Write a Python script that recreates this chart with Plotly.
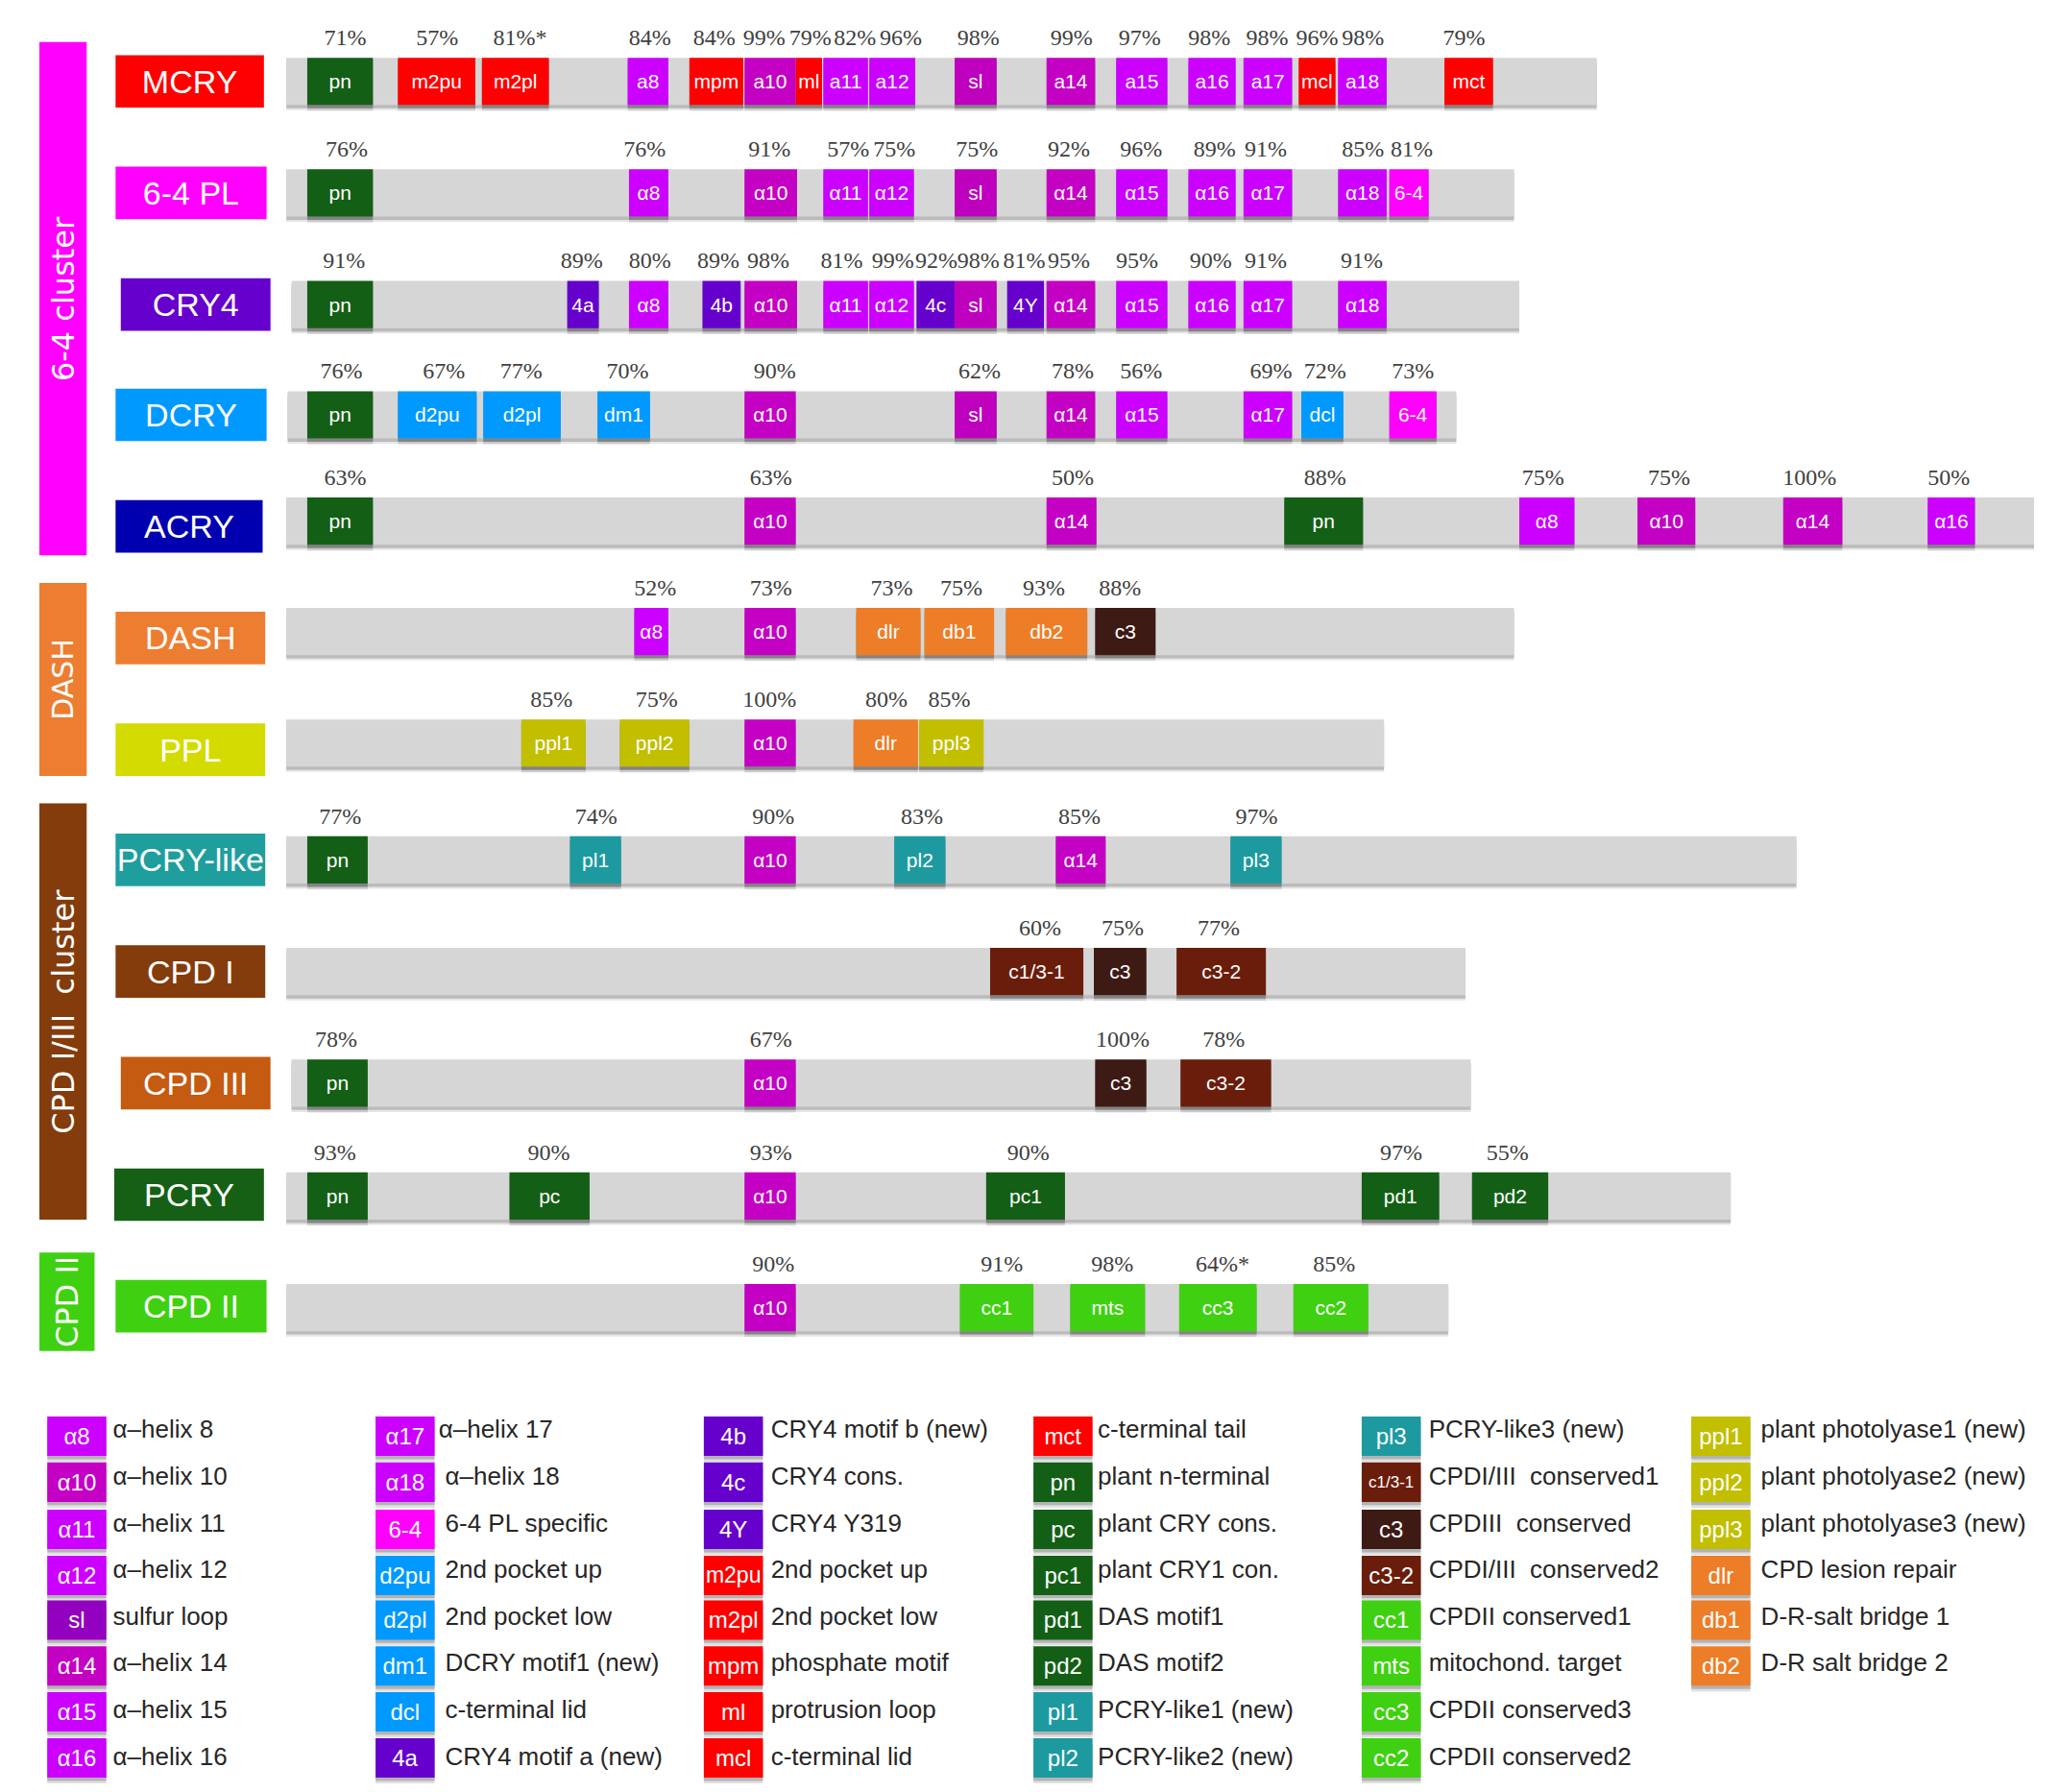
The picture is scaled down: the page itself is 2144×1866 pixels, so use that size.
import plotly.graph_objects as go

W, H = 2144, 1866
XMAX, YMAX = 1568, 1365

# Protein families
families = ["MCRY", "6-4 PL", "CRY4", "DCRY", "ACRY", "DASH", "PPL", "PCRY-like", "CPD I", "CPD III", "PCRY", "CPD II"]
family_y = [62, 147, 232, 316, 401, 486, 571, 655, 740, 825, 910, 995]
seq_y = [62, 147, 232, 316, 397, 481, 566, 655, 740, 825, 911, 996]
family_box_start = [88, 88, 92, 88, 88, 88, 88, 88, 88, 92, 87, 88]
family_box_end = [201, 203, 206, 203, 200, 202, 202, 202, 202, 206, 201, 203]
family_colors = ["#FF0000", "#FF00FF", "#6600CC", "#0099FF", "#0000B0", "#ED7D31", "#D4DB00", "#1F9E9E", "#843C0C", "#C55A11", "#156015", "#3FD111"]
seq_start = [218, 218, 222, 219, 218, 218, 218, 218, 218, 222, 218, 218]
seq_end = [1216, 1153, 1157, 1109, 1549, 1153, 1054, 1368, 1116, 1120, 1318, 1103]

# Motifs per family: label, start, end; conservation labels and where they sit
mcry_m = ["pn", "m2pu", "m2pl", "a8", "mpm", "a10", "ml", "a11", "a12", "sl", "a14", "a15", "a16", "a17", "mcl", "a18", "mct"]
mcry_s = [234, 303, 367, 478, 525, 567, 606, 627, 662, 727, 797, 850, 905, 947, 989, 1019, 1100]
mcry_e = [284, 362, 418, 509, 566, 606, 626, 661, 697, 759, 834, 889, 941, 984, 1017, 1056, 1137]
mcry_p = ["71%", "57%", "81%*", "84%", "84%", "99%", "79%", "82%", "96%", "98%", "99%", "97%", "98%", "98%", "96%", "98%", "79%"]
mcry_px = [263, 333, 396, 495, 544, 582, 617, 651, 686, 745, 816, 868, 921, 965, 1003, 1038, 1115]

pl64_m = ["pn", "α8", "α10", "α11", "α12", "sl", "α14", "α15", "α16", "α17", "α18", "6-4"]
pl64_s = [234, 479, 567, 627, 662, 727, 797, 850, 905, 947, 1019, 1058]
pl64_e = [284, 509, 607, 661, 696, 759, 834, 889, 941, 984, 1056, 1088]
pl64_p = ["76%", "76%", "91%", "57%", "75%", "75%", "92%", "96%", "89%", "91%", "85%", "81%"]
pl64_px = [264, 491, 586, 646, 681, 744, 814, 869, 925, 964, 1038, 1075]

cry4_m = ["pn", "4a", "α8", "4b", "α10", "α11", "α12", "4c", "sl", "4Y", "α14", "α15", "α16", "α17", "α18"]
cry4_s = [234, 432, 479, 535, 567, 627, 662, 698, 727, 767, 797, 850, 905, 947, 1019]
cry4_e = [284, 456, 509, 564, 607, 661, 696, 727, 759, 795, 834, 889, 941, 984, 1056]
cry4_p = ["91%", "89%", "80%", "89%", "98%", "81%", "99%", "92%", "98%", "81%", "95%", "95%", "90%", "91%", "91%"]
cry4_px = [262, 443, 495, 547, 585, 641, 680, 713, 745, 780, 814, 866, 922, 964, 1037]

dcry_m = ["pn", "d2pu", "d2pl", "dm1", "α10", "sl", "α14", "α15", "α17", "dcl", "6-4"]
dcry_s = [234, 303, 368, 455, 567, 727, 797, 850, 947, 991, 1058]
dcry_e = [284, 363, 427, 495, 606, 759, 834, 889, 984, 1023, 1094]
dcry_p = ["76%", "67%", "77%", "70%", "90%", "62%", "78%", "56%", "69%", "72%", "73%"]
dcry_px = [260, 338, 397, 478, 590, 746, 817, 869, 968, 1009, 1076]

acry_m = ["pn", "α10", "α14", "pn", "α8", "α10", "α14", "α16"]
acry_s = [234, 567, 797, 978, 1157, 1247, 1358, 1468]
acry_e = [284, 606, 835, 1038, 1199, 1291, 1403, 1504]
acry_p = ["63%", "63%", "50%", "88%", "75%", "75%", "100%", "50%"]
acry_px = [263, 587, 817, 1009, 1175, 1271, 1378, 1484]

dash_m = ["α8", "α10", "dlr", "db1", "db2", "c3"]
dash_s = [483, 567, 652, 704, 766, 834]
dash_e = [509, 606, 701, 757, 828, 880]
dash_p = ["52%", "73%", "73%", "75%", "93%", "88%"]
dash_px = [499, 587, 679, 732, 795, 853]

ppl_m = ["ppl1", "ppl2", "α10", "dlr", "ppl3"]
ppl_s = [397, 472, 567, 650, 700]
ppl_e = [446, 525, 606, 699, 749]
ppl_p = ["85%", "75%", "100%", "80%", "85%"]
ppl_px = [420, 500, 586, 675, 723]

pcl_m = ["pn", "pl1", "α10", "pl2", "α14", "pl3"]
pcl_s = [234, 434, 567, 681, 804, 937]
pcl_e = [280, 473, 606, 720, 842, 976]
pcl_p = ["77%", "74%", "90%", "83%", "85%", "97%"]
pcl_px = [259, 454, 589, 702, 822, 957]

cpd1_m = ["c1/3-1", "c3", "c3-2"]
cpd1_s = [754, 833, 896]
cpd1_e = [825, 873, 964]
cpd1_p = ["60%", "75%", "77%"]
cpd1_px = [792, 855, 928]

cpd3_m = ["pn", "α10", "c3", "c3-2"]
cpd3_s = [234, 567, 834, 899]
cpd3_e = [280, 606, 873, 968]
cpd3_p = ["78%", "67%", "100%", "78%"]
cpd3_px = [256, 587, 855, 932]

pcry_m = ["pn", "pc", "α10", "pc1", "pd1", "pd2"]
pcry_s = [234, 388, 567, 751, 1037, 1121]
pcry_e = [280, 449, 606, 811, 1096, 1179]
pcry_p = ["93%", "90%", "93%", "90%", "97%", "55%"]
pcry_px = [255, 418, 587, 783, 1067, 1148]

cpd2_m = ["α10", "cc1", "mts", "cc3", "cc2"]
cpd2_s = [567, 731, 815, 898, 985]
cpd2_e = [606, 787, 872, 957, 1042]
cpd2_p = ["90%", "91%", "98%", "64%*", "85%"]
cpd2_px = [589, 763, 847, 931, 1016]

family_motifs = [
    (mcry_m, mcry_s, mcry_e, mcry_p, mcry_px), (pl64_m, pl64_s, pl64_e, pl64_p, pl64_px),
    (cry4_m, cry4_s, cry4_e, cry4_p, cry4_px), (dcry_m, dcry_s, dcry_e, dcry_p, dcry_px),
    (acry_m, acry_s, acry_e, acry_p, acry_px), (dash_m, dash_s, dash_e, dash_p, dash_px),
    (ppl_m, ppl_s, ppl_e, ppl_p, ppl_px), (pcl_m, pcl_s, pcl_e, pcl_p, pcl_px),
    (cpd1_m, cpd1_s, cpd1_e, cpd1_p, cpd1_px), (cpd3_m, cpd3_s, cpd3_e, cpd3_p, cpd3_px),
    (pcry_m, pcry_s, pcry_e, pcry_p, pcry_px), (cpd2_m, cpd2_s, cpd2_e, cpd2_p, cpd2_px),
]

# Clusters
clusters = ["6-4 cluster", "DASH", "CPD I/III  cluster", "CPD II"]
cluster_top = [32, 444, 612, 954]
cluster_bottom = [423, 591, 929, 1029]
cluster_left = [30, 30, 30, 30]
cluster_right = [66, 66, 66, 72]
cluster_colors = ["#FF00FF", "#ED7D31", "#843C0C", "#3FD111"]
cluster_font = [32, 30, 32, 32]

# Motif colours
C_H1, C_H2 = "#CC00FF", "#C400C4"
motif_colors = {
    "a8": C_H1, "a11": C_H1, "a12": C_H1, "a15": C_H1, "a16": C_H1, "a17": C_H1, "a18": C_H1,
    "α8": C_H1, "α11": C_H1, "α12": C_H1, "α15": C_H1, "α16": C_H1, "α17": C_H1, "α18": C_H1,
    "a10": C_H2, "a14": C_H2, "α10": C_H2, "α14": C_H2, "sl": "#BE00BE",
    "6-4": "#FF00FF",
    "d2pu": "#0099FF", "d2pl": "#0099FF", "dm1": "#0099FF", "dcl": "#0099FF",
    "4a": "#6600CC", "4b": "#6600CC", "4c": "#6600CC", "4Y": "#6600CC",
    "m2pu": "#FF0000", "m2pl": "#FF0000", "mpm": "#FF0000", "ml": "#FF0000", "mcl": "#FF0000", "mct": "#FF0000",
    "pn": "#135F16", "pc": "#135F16", "pc1": "#135F16", "pd1": "#135F16", "pd2": "#135F16",
    "pl1": "#1C9AA0", "pl2": "#1C9AA0", "pl3": "#1C9AA0",
    "c1/3-1": "#6B1D0C", "c3": "#3E1A14", "c3-2": "#6B1D0C",
    "cc1": "#3FD111", "mts": "#3FD111", "cc3": "#3FD111", "cc2": "#3FD111",
    "ppl1": "#C2BE00", "ppl2": "#C2BE00", "ppl3": "#C2BE00",
    "dlr": "#ED7D27", "db1": "#ED7D27", "db2": "#ED7D27",
}

# Legend, column by column
legend_col1 = ["α8", "α10", "α11", "α12", "sl", "α14", "α15", "α16"]
legend_txt1 = ["α–helix 8", "α–helix 10", "α–helix 11", "α–helix 12", "sulfur loop", "α–helix 14", "α–helix 15", "α–helix 16"]
legend_col2 = ["α17", "α18", "6-4", "d2pu", "d2pl", "dm1", "dcl", "4a"]
legend_txt2 = ["α–helix 17", "α–helix 18", "6-4 PL specific", "2nd pocket up", "2nd pocket low", "DCRY motif1 (new)", "c-terminal lid", "CRY4 motif a (new)"]
legend_col3 = ["4b", "4c", "4Y", "m2pu", "m2pl", "mpm", "ml", "mcl"]
legend_txt3 = ["CRY4 motif b (new)", "CRY4 cons.", "CRY4 Y319", "2nd pocket up", "2nd pocket low", "phosphate motif", "protrusion loop", "c-terminal lid"]
legend_col4 = ["mct", "pn", "pc", "pc1", "pd1", "pd2", "pl1", "pl2"]
legend_txt4 = ["c-terminal tail", "plant n-terminal", "plant CRY cons.", "plant CRY1 con.", "DAS motif1", "DAS motif2", "PCRY-like1 (new)", "PCRY-like2 (new)"]
legend_col5 = ["pl3", "c1/3-1", "c3", "c3-2", "cc1", "mts", "cc3", "cc2"]
legend_txt5 = ["PCRY-like3 (new)", "CPDI/III  conserved1", "CPDIII  conserved", "CPDI/III  conserved2", "CPDII conserved1", "mitochond. target", "CPDII conserved3", "CPDII conserved2"]
legend_col6 = ["ppl1", "ppl2", "ppl3", "dlr", "db1", "db2"]
legend_txt6 = ["plant photolyase1 (new)", "plant photolyase2 (new)", "plant photolyase3 (new)", "CPD lesion repair", "D-R-salt bridge 1", "D-R salt bridge 2"]

legend_cols = [legend_col1, legend_col2, legend_col3, legend_col4, legend_col5, legend_col6]
legend_txts = [legend_txt1, legend_txt2, legend_txt3, legend_txt4, legend_txt5, legend_txt6]
legend_x = [36, 286, 536, 787, 1037, 1288]
legend_text_x = [86, 339, 587, 836, 1088, 1341]
legend_y = [1094, 1129, 1165, 1200, 1234, 1269, 1304, 1339]
legend_text_y = [1090, 1126, 1162, 1197, 1233, 1268, 1304, 1340]

SERIF = "Liberation Serif"
SANS = "Liberation Sans"
MH = 36  # motif height
SW = 45  # legend swatch width
SH = 30  # legend swatch height


def hbar(y, start, end, color, height, text=None, size=None, name=""):
    return go.Bar(
        orientation="h", y=y, base=start, x=[e - s for s, e in zip(start, end)],
        width=height, marker=dict(color=color, line=dict(width=0)),
        text=text, textposition="inside" if text else "none", insidetextanchor="middle",
        textangle=0, constraintext="none", cliponaxis=False,
        textfont=dict(family=SANS, color="white", size=size),
        hoverinfo="skip", showlegend=False, name=name,
    )


fig = go.Figure()

# collect motif and legend boxes
m_y, m_s, m_e, m_c, m_t, m_h, m_sz = [], [], [], [], [], [], []
pct_x, pct_y, pct_t = [], [], []
for yc, (labels, st, en, pcts, px) in zip(seq_y, family_motifs):
    for lab, s, e, p, x in zip(labels, st, en, pcts, px):
        m_y.append(yc); m_s.append(s); m_e.append(e)
        m_c.append(motif_colors[lab]); m_t.append(lab); m_h.append(MH); m_sz.append(21)
        pct_x.append(x); pct_y.append(yc - 32); pct_t.append(p)

leg_tx, leg_ty, leg_tt = [], [], []
for col, txts, x0, tx in zip(legend_cols, legend_txts, legend_x, legend_text_x):
    for i, (lab, t) in enumerate(zip(col, txts)):
        m_y.append(legend_y[i]); m_s.append(x0); m_e.append(x0 + SW)
        c = "#9400C0" if lab == "sl" else motif_colors[lab]
        m_c.append(c); m_t.append(lab); m_h.append(SH)
        m_sz.append(17 if lab == "c1/3-1" else 23 if lab == "m2pu" else 24)
        leg_tx.append(tx - 5 if lab == "α17" else tx); leg_ty.append(legend_text_y[i]); leg_tt.append(t)

# Clusters
fig.add_trace(go.Bar(
    orientation="v", x=[(l + r) / 2 for l, r in zip(cluster_left, cluster_right)],
    base=cluster_top, y=[b - t for t, b in zip(cluster_top, cluster_bottom)],
    width=[r - l for l, r in zip(cluster_left, cluster_right)],
    marker=dict(color=cluster_colors, line=dict(width=0)),
    text=clusters, textposition="inside", insidetextanchor="middle", textangle=-90,
    constraintext="none", textfont=dict(family="DejaVu Sans", color="white", size=cluster_font),
    hoverinfo="skip", showlegend=False, name="clusters",
))

# Family name boxes
fig.add_trace(hbar(family_y, family_box_start, family_box_end, family_colors, 40,
                   text=families, size=34, name="families"))

# Grey sequence bars with soft lower shadow
for off, col in [(4, "rgba(0,0,0,0.10)"), (2.5, "rgba(0,0,0,0.18)")]:
    fig.add_trace(hbar([y + off for y in seq_y], seq_start, seq_end, col, 36, name="seq shadow"))
fig.add_trace(hbar(seq_y, seq_start, seq_end, "#D6D6D6", 36, name="sequence"))

# Motif boxes and legend swatches with soft shadow
for off, col in [(4.5, "rgba(0,0,0,0.12)"), (2.5, "rgba(0,0,0,0.20)")]:
    fig.add_trace(hbar([y + off for y in m_y], m_s, m_e, col, m_h, name="motif shadow"))
fig.add_trace(hbar(m_y, m_s, m_e, m_c, m_h, text=m_t, size=m_sz, name="motifs"))

# Conservation labels
fig.add_trace(go.Scatter(
    x=pct_x, y=pct_y, mode="text", text=pct_t, textposition="middle center",
    textfont=dict(family=SERIF, size=24, color="#404040"),
    hoverinfo="skip", showlegend=False, name="conservation", cliponaxis=False,
))
# Legend descriptions
fig.add_trace(go.Scatter(
    x=leg_tx, y=leg_ty, mode="text", text=leg_tt, textposition="middle right",
    textfont=dict(family=SANS, size=26, color="#262626"),
    hoverinfo="skip", showlegend=False, name="legend text", cliponaxis=False,
))

fig.update_layout(
    width=W, height=H, margin=dict(l=0, r=0, t=0, b=0),
    paper_bgcolor="white", plot_bgcolor="white", barmode="overlay",
    xaxis=dict(range=[0, XMAX], visible=False, fixedrange=True),
    yaxis=dict(range=[YMAX, 0], visible=False, fixedrange=True),
    font=dict(family=SANS),
)
fig.write_html("out.html", config={"displayModeBar": False},
               post_script="document.body.style.margin='0';document.body.style.overflow='hidden';")
